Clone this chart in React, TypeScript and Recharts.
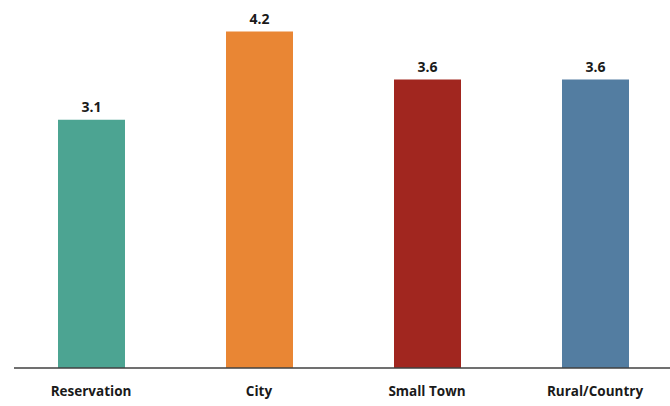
import { BarChart, Bar, XAxis, YAxis, LabelList, Cell } from "recharts";

const categories = ["Reservation", "City", "Small Town", "Rural/Country"];
const values = [3.1, 4.2, 3.6, 3.6];
const colors = ["#4CA492", "#E98634", "#A1261F", "#537DA1"];

const data = categories.map((name, i) => ({ name, value: values[i] }));

const FONT = "'Open Sans', 'Noto Sans', sans-serif";

function CategoryTick(props: any) {
  const { x, y, payload } = props;
  return (
    <text
      x={x}
      y={y + 15}
      textAnchor="middle"
      dominantBaseline="central"
      fontFamily={FONT}
      fontWeight={700}
      fontSize={13.5}
      fill="#1a1a1a"
    >
      {payload.value}
    </text>
  );
}

export default function App() {
  return (
    <div style={{ position: "absolute", left: 0, top: 0, background: "#fff" }}>
      <BarChart
        width={680}
        height={406}
        data={data}
        margin={{ top: 31.5, right: 1, left: 14, bottom: 0 }}
      >
        <XAxis
          dataKey="name"
          tickLine={false}
          axisLine={{ stroke: "#404040", strokeWidth: 1.5 }}
          height={38}
          tick={<CategoryTick />}
          interval={0}
          padding={{ left: -7, right: 0 }}
        />
        <YAxis hide domain={[0, 4.2]} />
        <Bar dataKey="value" barSize={67} isAnimationActive={false}>
          {data.map((d, i) => (
            <Cell key={d.name} fill={colors[i]} />
          ))}
          <LabelList
            dataKey="value"
            position="top"
            offset={8}
            fontFamily={FONT}
            fontWeight={700}
            fontSize={14}
            fill="#1a1a1a"
            formatter={(v: any) => Number(v).toFixed(1)}
          />
        </Bar>
      </BarChart>
    </div>
  );
}
